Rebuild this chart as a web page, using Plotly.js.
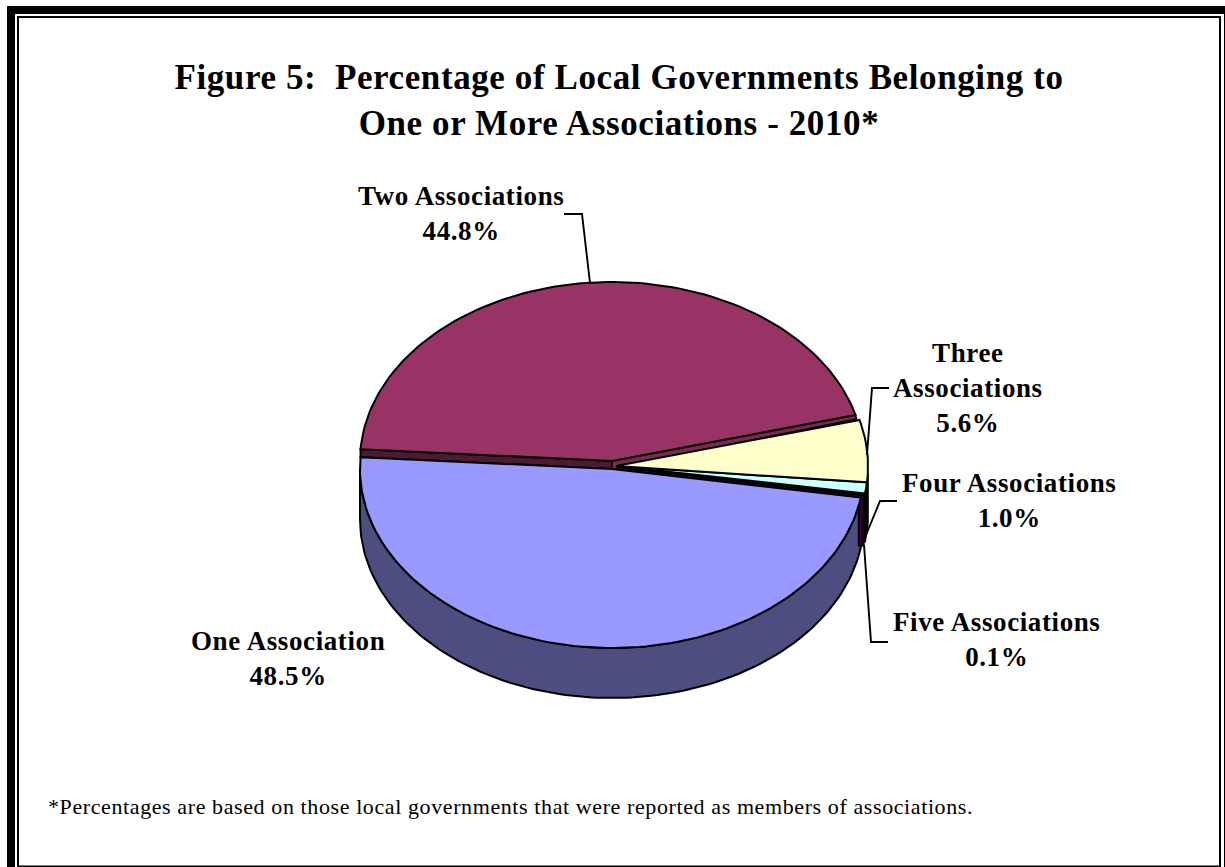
<!DOCTYPE html>
<html><head><meta charset="utf-8">
<script src="https://cdn.plot.ly/plotly-3.0.1.min.js"></script>
<style>html,body{margin:0;padding:0;background:#fff}#c{width:1225px;height:867px}
svg text{letter-spacing:0.6px}</style>
</head><body><div id="c"></div>
<script>
const categories = ['One Association','Two Associations','Three Associations','Four Associations','Five Associations'];
const labelText  = ['One Association','Two Associations','Three<br>Associations','Four Associations','Five Associations'];
const percents   = [48.5, 44.8, 5.6, 1.0, 0.1];
const topColors  = ['#9999FF','#993366','#FFFFCC','#CCFFFF','#660066'];
const titleText  = 'Figure 5:  Percentage of Local Governments Belonging to<br>One or More Associations - 2010*';
const footText   = '*Percentages are based on those local governments that were reported as members of associations.';

const SERIF = '"Liberation Serif","Times New Roman",serif';
const RX = 252, RY = 179, DEPTH = 50, START = 9.2;
const centers = [[612,469],[612,461],[616,466],[616,466],[617,467]];
const total = percents.reduce((a,b)=>a+b,0);
const rad = d => d*Math.PI/180;
let acc = START;
const spans = percents.map(p=>{const s={a:acc,b:acc+p/total*360};acc=s.b;return s;});
const pt = (c,t,dy=0)=>[c[0]+RX*Math.cos(rad(t)), c[1]+RY*Math.sin(rad(t))+dy];
function arc(c,a,b,dy=0){const n=Math.max(2,Math.ceil(Math.abs(b-a)/1.5));const o=[];for(let i=0;i<=n;i++)o.push(pt(c,a+(b-a)*i/n,dy));return o;}
function poly(points,fill,name,w=2){
  const closed=points.concat([points[0]]);
  return {type:'scatter',mode:'lines',x:closed.map(p=>p[0]),y:closed.map(p=>p[1]),fill:'toself',fillcolor:fill,
          line:{color:'#000',width:w,shape:'linear'},name,hoverinfo:'name',showlegend:false};
}
function leader(points,name){
  return {type:'scatter',mode:'lines',x:points.map(p=>p[0]),y:points.map(p=>p[1]),line:{color:'#000',width:1.9},name,hoverinfo:'skip',showlegend:false};
}
const wedge = i => [centers[i]].concat(arc(centers[i],spans[i].a,spans[i].b));

// side wall of the first slice
const oneSide = arc(centers[0],spans[0].a,180).concat(arc(centers[0],180,spans[0].a,DEPTH));
// black wall under the small slices
const c4 = centers[3];
const wall4 = arc(c4,spans[3].a-3,spans[4].b).concat(arc(c4,spans[4].b,spans[3].a-3,DEPTH-2));
// cut face of the small slices seen above slice one
const oneEnd = pt(centers[0],spans[0].a);
const fiveEnd = pt(centers[4],spans[4].a-1);
const cutFive = [centers[4],[fiveEnd[0]-3,fiveEnd[1]-2],[fiveEnd[0]-3,oneEnd[1]+48],[oneEnd[0]-2,oneEnd[1]+48],[oneEnd[0]-2,oneEnd[1]],centers[0]];
// cut face under slice two
const twoA = pt(centers[1],spans[1].a), oneB = pt(centers[0],spans[0].b);
const cutTwo = [centers[1],twoA,oneB,centers[0]];
// thin edge between slice two and slice three, with the small block at the apex
const twoB = pt(centers[1],spans[1].b);
const sliver = [centers[1],twoB,[twoB[0]+1,twoB[1]+4],[centers[2][0]+2,centers[2][1]+1],[centers[2][0]+1,centers[0][1]],centers[0]];

const traces = [
  poly(wall4,'#000','Wall'),
  poly(oneSide,'#4D4D80',categories[0]+' side'),
  poly(cutFive,'#330033',categories[4]+' side'),
  poly(cutTwo,'#4D1933',categories[1]+' side'),
  poly(sliver,'#7A2952',categories[1]+' edge',1.5),
  poly(wedge(3),topColors[3],categories[3]),
  poly(wedge(4),topColors[4],categories[4]),
  poly(wedge(2),topColors[2],categories[2]),
  poly(wedge(1),topColors[1],categories[1]),
  poly(wedge(0),topColors[0],categories[0]),
  leader([[564,214],[582,214],[590,283]],'l2'),
  leader([[889,388],[872,388],[867,455]],'l3'),
  leader([[897,501],[880,501],[866,535]],'l4'),
  leader([[888,642],[871,642],[864,545]],'l5')
];

const labelPos = [[288,658.5],[461,213.5],[968,388],[1009,500],[996,639.5]];
const annFont = {family:SERIF,size:27,color:'#000',weight:700};
const annotations = percents.map((p,i)=>({
  xref:'x',yref:'y',x:labelPos[i][0],y:labelPos[i][1],xanchor:'center',yanchor:'middle',align:'center',showarrow:false,
  text:labelText[i]+'<br>'+p.toFixed(1)+'%',font:annFont
}));
annotations.push({xref:'x',yref:'y',x:46,y:806,xanchor:'left',yanchor:'middle',align:'left',showarrow:false,text:footText,
  font:{family:SERIF,size:22,color:'#000'}});

const band=(x0,y0,x1,y1)=>({type:'rect',xref:'x',yref:'y',x0,y0,x1,y1,fillcolor:'#000',line:{width:0},layer:'below'});
const shapes=[
  band(7,6,1225,14), band(7,6,15,867), band(1224,6,1225,867),
  band(17,16,1221,18), band(17,16,19,867), band(1219,16,1221,867), band(17,865.5,1221,867)
];

Plotly.newPlot('c',traces,{
  width:1225,height:867,margin:{l:0,r:0,t:0,b:0},paper_bgcolor:'#fff',plot_bgcolor:'#fff',showlegend:false,
  title:{text:titleText,x:619/1225,xanchor:'center',y:1-89/867,yanchor:'top',font:{family:SERIF,size:35,color:'#000',weight:700}},
  xaxis:{range:[0,1225],visible:false,fixedrange:true},
  yaxis:{range:[867,0],visible:false,fixedrange:true},
  annotations,shapes
},{displayModeBar:false,staticPlot:true});
</script></body></html>
